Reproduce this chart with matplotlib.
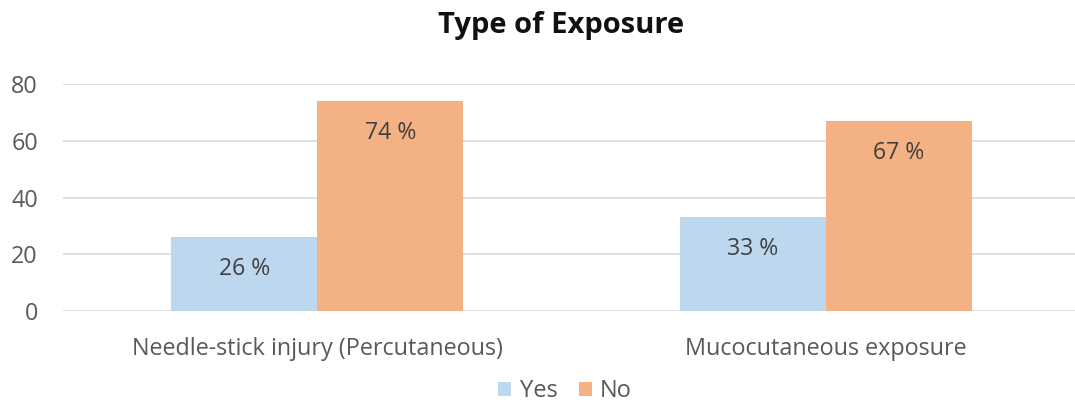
import matplotlib
matplotlib.use("Agg")
import matplotlib.pyplot as plt
import numpy as np

categories = ["Needle-stick injury (Percutaneous)", "Mucocutaneous exposure"]
yes_vals = [26, 33]
no_vals = [74, 67]
series_names = ["Yes", "No"]

plt.rcParams['font.family'] = ['Open Sans', 'DejaVu Sans']

fig = plt.figure(figsize=(10.75, 4.05), dpi=100)
ax = fig.add_axes([63 / 1075, 94 / 405, 1017 / 1075, 227 / 405])

x = np.arange(len(categories))
w = 0.287
b1 = ax.bar(x - w / 2, yes_vals, w, color="#BDD7EE", label=series_names[0], zorder=3)
b2 = ax.bar(x + w / 2, no_vals, w, color="#F4B183", label=series_names[1], zorder=3)

for bars in (b1, b2):
    for r in bars:
        h = r.get_height()
        ax.annotate(f"{h:.0f} %", (r.get_x() + r.get_width() / 2, h),
                    xytext=(0, -23), textcoords="offset points",
                    ha="center", va="center", fontsize=16.6, color="#404040", zorder=4)

ax.set_xlim(-0.5, 1.5)
ax.set_ylim(0, 80)
ax.set_yticks([0, 20, 40, 60, 80])
ax.yaxis.grid(True, color="#D9D9D9", linewidth=1.2, zorder=0)
ax.set_xticks(x)
ax.set_xticklabels(categories)
ax.tick_params(axis="both", length=0, labelsize=16.8, labelcolor="#595959")
ax.tick_params(axis="x", pad=19)
ax.tick_params(axis="y", pad=18)
for s in ax.spines.values():
    s.set_visible(False)

fig.text(561 / 1075, 1 - 26 / 405, "Type of Exposure", ha="center", va="center",
         fontsize=21, fontweight="bold", color="#111111")

fig.legend(loc="center", bbox_to_anchor=(565 / 1075, 1 - 391 / 405), ncol=2,
           frameon=False, fontsize=17, handlelength=0.55, handleheight=0.55,
           handletextpad=0.35, columnspacing=0.9, labelcolor="#595959")

fig.savefig("out.png", dpi=100)
